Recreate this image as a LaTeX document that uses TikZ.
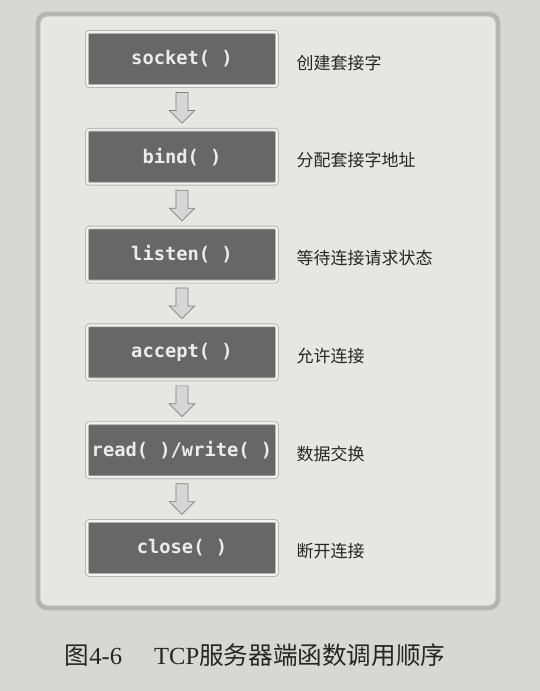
\documentclass[tikz,border=0pt]{standalone}
\usepackage{fontspec}
\setmainfont{Liberation Serif}
\setmonofont{DejaVu Sans Mono}
\newfontfamily\cjk{Noto Sans CJK SC}
\usetikzlibrary{positioning, shapes.arrows}
\definecolor{paper}{HTML}{D7D7D5}
\definecolor{panel}{HTML}{E6E6E4}
\definecolor{rim}{HTML}{B5B5B3}
\definecolor{boxfill}{HTML}{676767}
\definecolor{boxtext}{HTML}{ECECEC}

\begin{document}
\begin{tikzpicture}
        [funcbox/.style={rectangle, rounded corners=2pt, fill=boxfill,
            draw=rim, line width=0.8pt, double=white!95!black, double distance=1.6pt,
            minimum width=5.7cm, minimum height=1.62cm, inner sep=1pt,
            text=boxtext, font=\fontsize{16}{18}\selectfont\ttfamily\bfseries},
        stepnote/.style={right=0.45cm of #1, anchor=west, yshift=-3pt,
            font=\fontsize{14.5}{16}\selectfont\cjk, text=black!85},
        downarrow/.style={single arrow, shape border rotate=270, fill=black!16,
            draw=black!50, line width=0.6pt, inner sep=0.17cm,
            single arrow head extend=0.2cm, minimum height=0.92cm}]

    % page and panel
    \fill[paper] (0,0) rectangle (16.2,-20.73);
    \useasboundingbox (0,0) rectangle (16.2,-20.73);
    \draw[rim, line width=4pt, fill=panel, rounded corners=8pt]
        (1.14,-0.42) rectangle (14.94,-18.24);

    % calls
    \node[funcbox] (sockb) at (5.46,-1.77) {socket( )};
    \node[downarrow, below=0.17cm of sockb] (a1) {};
    \node[funcbox, below=0.17cm of a1] (bindb) {bind( )};
    \node[downarrow, below=0.17cm of bindb] (a2) {};
    \node[funcbox, below=0.17cm of a2] (listenb) {listen( )};
    \node[downarrow, below=0.17cm of listenb] (a3) {};
    \node[funcbox, below=0.17cm of a3] (acceptb) {accept( )};
    \node[downarrow, below=0.17cm of acceptb] (a4) {};
    \node[funcbox, below=0.17cm of a4] (rwb) {read( )/write( )};
    \node[downarrow, below=0.17cm of rwb] (a5) {};
    \node[funcbox, below=0.17cm of a5] (closeb) {close( )};

    % notes
    \node[stepnote=sockb] (sockl) {创建套接字};
    \node[stepnote=bindb] (bindl) {分配套接字地址};
    \node[stepnote=listenb] (listenl) {等待连接请求状态};
    \node[stepnote=acceptb] (acceptl) {允许连接};
    \node[stepnote=rwb] (rwl) {数据交换};
    \node[stepnote=closeb] (closel) {断开连接};

    \node[font=\fontsize{21}{24}\selectfont, text=black!85] (caption) at (7.65,-19.65)
        {{\cjk 图}4-6\hspace{1.3em}TCP{\cjk 服务器端函数调用顺序}};
\end{tikzpicture}
\end{document}
